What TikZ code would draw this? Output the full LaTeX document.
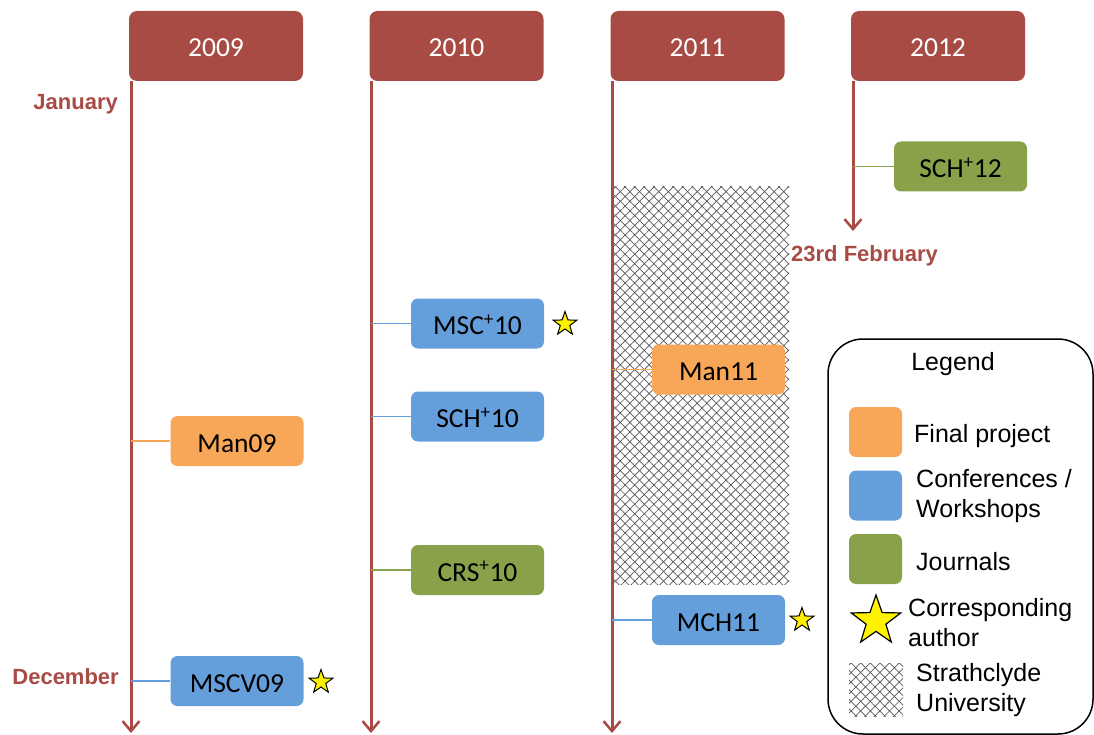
\documentclass[tikz,border=0pt]{standalone}
\usepackage{fontspec}
\setmainfont{Carlito}
\newfontfamily\arialfont{Liberation Sans}
\usetikzlibrary{arrows.meta,shapes.geometric,patterns.meta}
\definecolor{yearred}{RGB}{168,75,69}
\definecolor{projorange}{RGB}{248,167,88}
\definecolor{confblue}{RGB}{101,159,219}
\definecolor{jourgreen}{RGB}{137,162,74}
\definecolor{hatchgray}{RGB}{85,85,85}

\begin{document}
\begin{tikzpicture}[x=1pt,y=-1pt,
  yearbox/.style={rounded corners=8pt, fill=yearred, text=white,
    minimum width=174pt, minimum height=70pt, inner sep=0pt,
    text height=21.5pt, text depth=0pt,
    font=\fontsize{27.5}{30}\selectfont},
  evbox/.style={rounded corners=7pt, minimum width=133pt, minimum height=50pt,
    inner sep=0pt, text=black, text height=22pt, text depth=0pt,
    font=\fontsize{27.5}{30}\selectfont},
  proj/.style={evbox, fill=projorange},
  conf/.style={evbox, fill=confblue},
  jour/.style={evbox, fill=jourgreen},
  swatch/.style={rounded corners=7pt, minimum width=53pt, minimum height=50pt, inner sep=0pt},
  timeline/.style={draw=yearred, line width=3pt,
    -{Straight Barb[length=10pt,width=17pt,line width=2.5pt]}},
  link/.style={line width=1.3pt},
  month/.style={text=yearred, inner sep=0pt,
    font=\arialfont\bfseries\fontsize{22}{24}\selectfont},
  corr/.style={star, star points=5, star point ratio=2.5, draw=black, fill=yellow,
    line width=1pt, minimum size=25pt, inner sep=0pt},
  legtext/.style={font=\arialfont\fontsize{25}{30}\selectfont, align=left,
    anchor=west, inner sep=0pt},
  hatchA/.style={pattern={Lines[angle=45,distance=6.8pt,line width=0.7pt]}, pattern color=hatchgray},
  hatchB/.style={pattern={Lines[angle=-45,distance=6.8pt,line width=0.7pt]}, pattern color=hatchgray}
]
\useasboundingbox (0,0) rectangle (1094,735);

% Strathclyde period behind the 2011 timeline
\fill[hatchA] (614,187) rectangle (789,584);
\fill[hatchB] (614,187) rectangle (789,584);

% Year headers
\node[yearbox] (y09) at (216,46) {2009};
\node[yearbox] (y10) at (456.5,46) {2010};
\node[yearbox] (y11) at (697.5,46) {2011};
\node[yearbox] (y12) at (938,46) {2012};

% Timelines
\coordinate (t09) at (131,81);  \coordinate (e09) at (131,733);
\coordinate (t10) at (371,81);  \coordinate (e10) at (371,733);
\coordinate (t11) at (612,81);  \coordinate (e11) at (612,733);
\coordinate (t12) at (853,81);  \coordinate (e12) at (853,231);
\draw[timeline] (t09) -- (e09);
\draw[timeline] (t10) -- (e10);
\draw[timeline] (t11) -- (e11);
\draw[timeline] (t12) -- (e12);

% Month marks
\node[month, anchor=east] (jan) at (118,104) {January};
\node[month, anchor=east] (dec) at (119,677) {December};
\node[month, anchor=west] (feb) at (791,256) {23rd February};

% Publications
\node[jour] (sch12) at (960.5,166.5) {SCH\textsuperscript{+}12};
\node[conf] (msc10) at (477.5,323.5) {MSC\textsuperscript{+}10};
\node[conf] (sch10) at (477.5,416.5) {SCH\textsuperscript{+}10};
\node[jour] (crs10) at (477.5,570) {CRS\textsuperscript{+}10};
\node[proj] (man09) at (237,441) {Man09};
\node[conf] (mscv09) at (237,681) {MSCV09};
\node[proj] (man11) at (718.5,369.5) {Man11};
\node[conf] (mch11) at (718.5,620) {MCH11};

% Links to the timelines
\draw[link, jourgreen] (sch12.west) -- (sch12.west -| t12);
\draw[link, confblue] (msc10.west) -- (msc10.west -| t10);
\draw[link, confblue] (sch10.west) -- (sch10.west -| t10);
\draw[link, jourgreen] (crs10.west) -- (crs10.west -| t10);
\draw[link, projorange] (man09.west) -- (man09.west -| t09);
\draw[link, confblue] (mscv09.west) -- (mscv09.west -| t09);
\draw[link, projorange] (man11.west) -- (man11.west -| t11);
\draw[link, confblue] (mch11.west) -- (mch11.west -| t11);

% Corresponding-author stars
\node[corr] (s1) at (565,324) {};
\node[corr] (s2) at (321,682) {};
\node[corr] (s3) at (802,620) {};

% Legend
\node[draw=black, line width=1.5pt, rounded corners=35pt,
  minimum width=265pt, minimum height=395pt, inner sep=0pt] (legend) at (960.5,536.5) {};
\node[font=\arialfont\fontsize{25}{30}\selectfont, inner sep=0pt] (legtitle) at (953,364) {Legend};
\node[swatch, fill=projorange] (lproj) at (875.5,432) {};
\node[legtext] (lprojt) at (914,436) {Final project};
\node[swatch, fill=confblue] (lconf) at (875.5,495.5) {};
\node[legtext] (lconft) at (916,496) {Conferences /\\Workshops};
\node[swatch, fill=jourgreen] (ljour) at (875.5,559) {};
\node[legtext] (ljourt) at (916,562) {Journals};
\node[corr, minimum size=52pt, line width=1.2pt] (lstar) at (876,621) {};
\node[legtext] (lstart) at (908,623) {Corresponding\\author};
\fill[hatchA] (849,663) rectangle (903,716);
\fill[hatchB] (849,663) rectangle (903,716);
\node[legtext] (lhatcht) at (916,690) {Strathclyde\\University};
\end{tikzpicture}
\end{document}
